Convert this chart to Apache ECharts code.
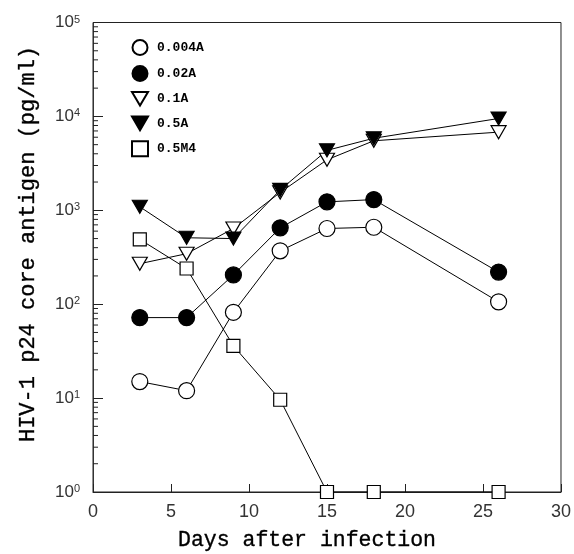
<!DOCTYPE html>
<html><head><meta charset="utf-8">
<script src="https://cdn.jsdelivr.net/npm/echarts@6/dist/echarts.min.js"></script>
<style>html,body{margin:0;padding:0;background:#fff}#c{width:574px;height:554px}</style>
</head><body><div id="c"></div>
<script>
const days = [3, 6, 9, 12, 15, 18, 26];
const seriesNames = ['0.004A', '0.02A', '0.1A', '0.5A', '0.5M4'];
const s0004A = [15, 12, 82, 370, 640, 660, 106];
const s002A = [72, 72, 205, 650, 1230, 1300, 220];
const s01A = [270, 345, 640, 1550, 3450, 5500, 6800];
const s05A = [1090, 510, 500, 1650, 4350, 5850, 9500];
const s05M4 = [490, 240, 36, 9.6, 1, 1, 1];
const yMinorTicks = [2,3,4,5,6,7,8,9,20,30,40,50,60,70,80,90,200,300,400,500,600,700,800,900,
  2000,3000,4000,5000,6000,7000,8000,9000,20000,30000,40000,50000,60000,70000,80000,90000];

const downTri = 'path://M0,0L20,0L10,17Z';
const pair = (ys) => days.map((d, i) => [d, ys[i]]);
function mk(name, ys, symbol, size, fill) {
  return {
    name, type: 'line', data: pair(ys), symbol, symbolSize: size,
    lineStyle: { color: '#000', width: 1 },
    itemStyle: { color: fill, borderColor: '#000', borderWidth: 1.2 },
    emphasis: { disabled: true }, animation: false
  };
}
const chart = echarts.init(document.getElementById('c'));
chart.setOption({
  animation: false,
  backgroundColor: '#fff',
  grid: { left: 93, right: 13, top: 22.5, bottom: 62, show: true, borderColor: '#222', borderWidth: 1 },
  legend: {
    orient: 'vertical', left: 126, top: 34, itemGap: 9, itemWidth: 16, itemHeight: 15,
    textStyle: { fontFamily: 'Liberation Mono', fontSize: 13, fontWeight: 'bold', color: '#000', padding: [0, 0, 0, 4] },
    data: [
      { name: seriesNames[0], icon: 'circle' },
      { name: seriesNames[1], icon: 'circle' },
      { name: seriesNames[2], icon: downTri },
      { name: seriesNames[3], icon: downTri },
      { name: seriesNames[4], icon: 'rect' }
    ]
  },
  xAxis: {
    type: 'value', min: 0, max: 30, interval: 5,
    axisLine: { lineStyle: { color: '#222', width: 1 } },
    axisTick: { inside: true, length: 8, lineStyle: { color: '#222' } },
    axisLabel: { margin: 11, fontFamily: 'Liberation Sans', fontSize: 18, color: '#333' },
    splitLine: { show: false }
  },
  yAxis: {
    type: 'log', logBase: 10, min: 1, max: 100000,
    axisLine: { lineStyle: { color: '#333', width: 1 } },
    axisTick: { inside: true, length: 10, lineStyle: { color: '#222' } },
    axisLabel: {
      margin: 13, fontFamily: 'Liberation Sans', fontSize: 17, color: '#333',
      formatter: v => '10{s|' + Math.round(Math.log10(v)) + '}',
      rich: { s: { fontSize: 11, verticalAlign: 'top', lineHeight: 10, fontFamily: 'Liberation Sans', color: '#333' } }
    },
    splitLine: { show: false }
  },
  graphic: [
    { type: 'text', x: 28, y: 244, rotation: Math.PI / 2,
      style: { text: 'HIV-1 p24 core antigen (pg/ml)', fontFamily: 'Liberation Mono', fontSize: 22, fill: '#000',
               stroke: '#000', lineWidth: 0.35, align: 'center', verticalAlign: 'middle' } },
    { type: 'text', x: 307, y: 540,
      style: { text: 'Days after infection', fontFamily: 'Liberation Mono', fontSize: 21.5, fill: '#000',
               stroke: '#000', lineWidth: 0.35, align: 'center', verticalAlign: 'middle' } }
  ],
  series: [
    {
      type: 'custom', silent: true, animation: false, clip: false,
      data: yMinorTicks.map(v => [0, v]),
      renderItem: (params, api) => {
        const p = api.coord([0, api.value(1)]);
        return { type: 'line', shape: { x1: p[0], y1: p[1], x2: p[0] + 5, y2: p[1] },
                 style: { stroke: '#222', lineWidth: 1 } };
      }
    },
    mk(seriesNames[0], s0004A, 'circle', 16, '#fff'),
    mk(seriesNames[1], s002A, 'circle', 16, '#000'),
    mk(seriesNames[2], s01A, downTri, [15, 13], '#fff'),
    mk(seriesNames[3], s05A, downTri, [15, 13], '#000'),
    mk(seriesNames[4], s05M4, 'rect', 13, '#fff')
  ]
});
</script></body></html>
